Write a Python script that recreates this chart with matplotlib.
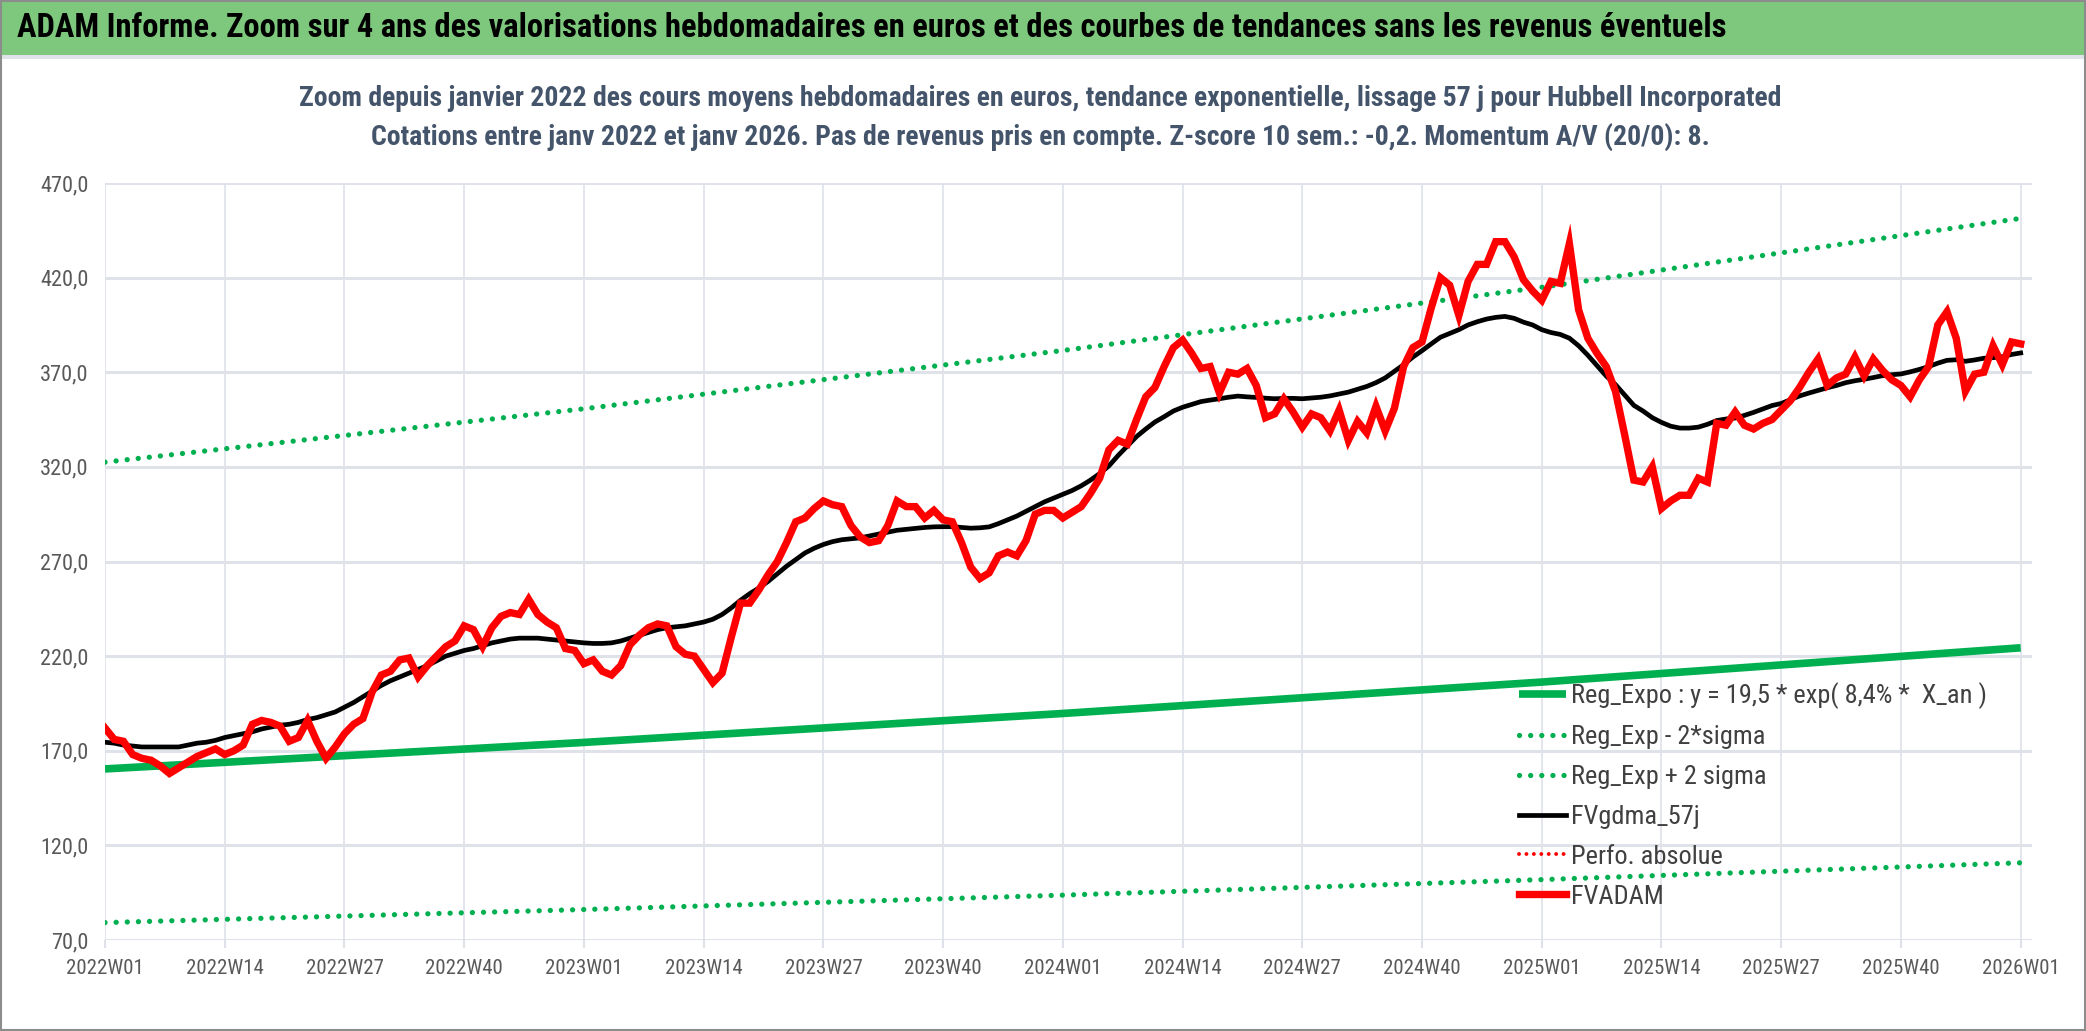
import matplotlib
matplotlib.use("Agg")
import matplotlib.pyplot as plt
from matplotlib import font_manager
from matplotlib.patches import Rectangle

# ---------------- data ----------------
weeks_per_year = 52
tick_labels = ["2022W01", "2022W14", "2022W27", "2022W40",
               "2023W01", "2023W14", "2023W27", "2023W40",
               "2024W01", "2024W14", "2024W27", "2024W40",
               "2025W01", "2025W14", "2025W27", "2025W40",
               "2026W01"]

fvadam = [182, 176, 175, 168, 166, 165, 162, 158, 161, 164, 167, 169, 171, 168, 170, 173,
          184, 186, 185, 183, 175, 177, 186, 175, 166, 172, 179, 184, 187, 201, 210, 212,
          218, 219, 209, 215, 220, 225, 228, 236, 234, 225, 235, 241, 243, 242, 250, 242,
          238, 235, 224, 223, 216, 218, 212, 210, 215, 226, 231, 235, 237, 236, 225, 221,
          220, 213, 206, 211, 230, 248, 248, 255, 263, 270, 280, 291, 293, 298, 302, 300,
          299, 289, 283, 280, 281, 289, 302, 299, 299, 293, 297, 292, 291, 280, 267, 261,
          264, 273, 275, 273, 281, 295, 297, 297, 293, 296, 299, 306, 314, 329, 334, 332,
          345, 357, 362, 373, 383, 387, 380, 372, 373, 359, 370, 369, 372, 363, 346, 348,
          356, 349, 341, 348, 346, 339, 350, 334, 344, 338, 352, 339, 351, 373, 383, 386,
          404, 420, 416, 400, 418, 427, 427, 439, 439, 431, 419, 413, 408, 418, 417, 438,
          403, 388, 380, 373, 360, 337, 313, 312, 320, 298, 302, 305, 305, 314, 312, 343,
          342, 349, 342, 340, 343, 345, 350, 355, 362, 370, 377, 363, 367, 369, 378, 368,
          377, 371, 366, 363, 357, 366, 373, 395, 402, 388, 360, 369, 370, 384, 374, 386,
          385]

fvgdma_57j = [174.5, 174, 173, 172.5, 172, 172, 172, 172, 172, 173, 174, 174.5, 175.5, 177, 178, 179,
              180, 181.5, 182.5, 183.5, 184, 185, 186.5, 187.5, 189, 190.5, 193, 195.5, 198.5, 201.5, 204.5, 207,
              209, 211, 213, 215, 217.5, 220, 221.5, 223, 224, 225.5, 227, 228, 229, 229.5, 229.5, 229.5,
              229, 228.5, 228, 227.5, 227, 226.7, 226.7, 227, 228, 229.5, 231, 232.5, 234, 235, 235.5, 236,
              237, 238, 239.5, 242, 245.5, 249.5, 253, 256, 259.5, 263.5, 267.5, 271, 274.5, 277, 279, 280.5,
              281.5, 282, 282.5, 283.5, 284.5, 285.5, 286.5, 287, 287.5, 288, 288.3, 288.4, 288.4, 288, 287.6, 287.8,
              288.3, 290, 292, 294, 296.5, 299, 301.5, 303.5, 305.5, 307.5, 310, 313, 316.5, 320.5, 326, 331,
              336, 340, 343.7, 346.5, 349.5, 351.5, 353, 354.5, 355.3, 356, 356.8, 357.4, 357, 356.7, 356.3, 356,
              356.2, 356.2, 356, 356.4, 356.8, 357.5, 358.5, 359.5, 361, 362.5, 364.5, 367, 370.5, 374, 378, 381.4,
              385, 388.5, 390.5, 392.5, 395, 396.7, 398.1, 399, 399.5, 398.5, 396.5, 395, 392.5, 391, 390, 388,
              384, 379, 373.5, 368, 363.5, 358, 352.5, 349.5, 346, 343.5, 341.5, 340.5, 340.5, 341, 342.5, 344.5,
              345.3, 345.8, 347.2, 348.8, 350.6, 352.4, 353.5, 355.5, 357.5, 359, 360.4, 361.8, 363, 364.5, 365.5, 366.3,
              367.2, 368.2, 368.7, 369.1, 370.2, 371.5, 373, 374.8, 376.3, 376.6, 375.8, 376.5, 377.4, 377.7, 378.2, 379.4,
              380.2]

# regression curves read at each year start (2022W01 ... 2026W01)
reg_weeks = [0, 52, 104, 156, 208]
reg_expo = [160.4, 174.4, 189.7, 206.3, 224.4]
reg_minus_2s = [79.2, 86.1, 93.7, 101.9, 110.8]
reg_plus_2s = [322.5, 350.7, 381.5, 414.9, 451.3]

y_ticks = [70, 120, 170, 220, 270, 320, 370, 420, 470]

# ---------------- fonts ----------------
installed = {f.name for f in font_manager.fontManager.ttflist}
def pick(*names):
    for n in names:
        if n in installed:
            return n
    return "DejaVu Sans"
narrow = pick("Liberation Sans Narrow", "Roboto Condensed", "Open Sans Condensed", "Noto Sans", "Liberation Sans")
plt.rcParams['font.family'] = [narrow, 'DejaVu Sans']

W, H = 2086, 1031
fig = plt.figure(figsize=(W / 100, H / 100), dpi=100)
fig.patch.set_facecolor("white")

# banner
fig.patches.append(Rectangle((0, 1 - 55 / H), 1, 55 / H, transform=fig.transFigure,
                             facecolor="#7ec87e", edgecolor="none", zorder=0))
fig.patches.append(Rectangle((0, 1 - 59 / H), 1, 4 / H, transform=fig.transFigure,
                             facecolor="#dfe2e8", edgecolor="none", zorder=0))
fig.patches.append(Rectangle((0.0005, 0.0005), 0.999, 0.999, transform=fig.transFigure,
                             facecolor="none", edgecolor="#8c8c8c", lw=1.5, zorder=5))
fig.text(17 / W, 1 - 28 / H,
         "ADAM Informe. Zoom sur 4 ans des valorisations hebdomadaires en euros et des courbes de tendances sans les revenus éventuels",
         ha="left", va="center", fontsize=23.5, fontweight="bold", color="black")

fig.text(1040 / W, 1 - 99 / H,
         "Zoom depuis janvier 2022 des cours moyens hebdomadaires en euros, tendance exponentielle, lissage 57 j pour Hubbell Incorporated",
         ha="center", va="center", fontsize=20, fontweight="bold", color="#44546a")
fig.text(1040 / W, 1 - 137 / H,
         "Cotations entre janv 2022 et janv 2026. Pas de revenus pris en compte. Z-score 10 sem.: -0,2. Momentum A/V (20/0): 8.",
         ha="center", va="center", fontsize=20, fontweight="bold", color="#44546a")

# axes
left = 105 / W
bottom = (H - 940) / H
height = (940 - 183) / H
xmax = 209.2
width = 9.21 * xmax / W
ax = fig.add_axes([left, bottom, width, height])
ax.set_xlim(0, xmax)
ax.set_ylim(70, 470)

x = list(range(len(fvadam)))

ax.plot(reg_weeks, reg_expo, color="#00b050", lw=5.5, solid_capstyle="butt", zorder=3,
        label="Reg_Expo : y = 19,5 * exp( 8,4% *  X_an )")
ax.plot(reg_weeks, reg_minus_2s, color="#00b050", lw=3.8, dashes=(0.01, 2.1),
        dash_capstyle="round", zorder=3, label="Reg_Exp - 2*sigma")
ax.plot(reg_weeks, reg_plus_2s, color="#00b050", lw=3.8, dashes=(0.01, 2.1),
        dash_capstyle="round", zorder=3, label="Reg_Exp + 2 sigma")
ax.plot(x, fvgdma_57j, color="black", lw=3.4, zorder=4, label="FVgdma_57j")
ax.plot([], [], color="#ff0000", lw=2.8, dashes=(0.01, 1.9), dash_capstyle="round",
        label="Perfo. absolue")
ax.plot(x, fvadam, color="#ff0000", lw=5.3, zorder=5, solid_joinstyle="miter", label="FVADAM")

ax.set_yticks(y_ticks)
ax.set_yticklabels([f"{v:.1f}".replace(".", ",") for v in y_ticks])
ax.set_xticks([13 * i for i in range(len(tick_labels))])
ax.set_xticklabels(tick_labels)
ax.tick_params(axis="y", colors="#595959", labelsize=16, length=0, pad=12)
ax.tick_params(axis="x", colors="#595959", labelsize=15, length=6, color="#dfe2e8", width=1.5, pad=8)
ax.grid(axis="y", color="#dfe2e8", lw=2.2)
ax.grid(axis="x", color="#e3e6ec", lw=1.4)
ax.set_axisbelow(True)
for s in ax.spines.values():
    s.set_visible(False)

leg = fig.legend(loc="upper left", bbox_to_anchor=(1508 / W, 1 - 672 / H),
                 frameon=False, fontsize=19, handlelength=1.8, handletextpad=0.2,
                 labelspacing=0.6, borderaxespad=0)
for t in leg.get_texts():
    t.set_color("#404040")

fig.savefig("out.png", dpi=100, facecolor="white")
